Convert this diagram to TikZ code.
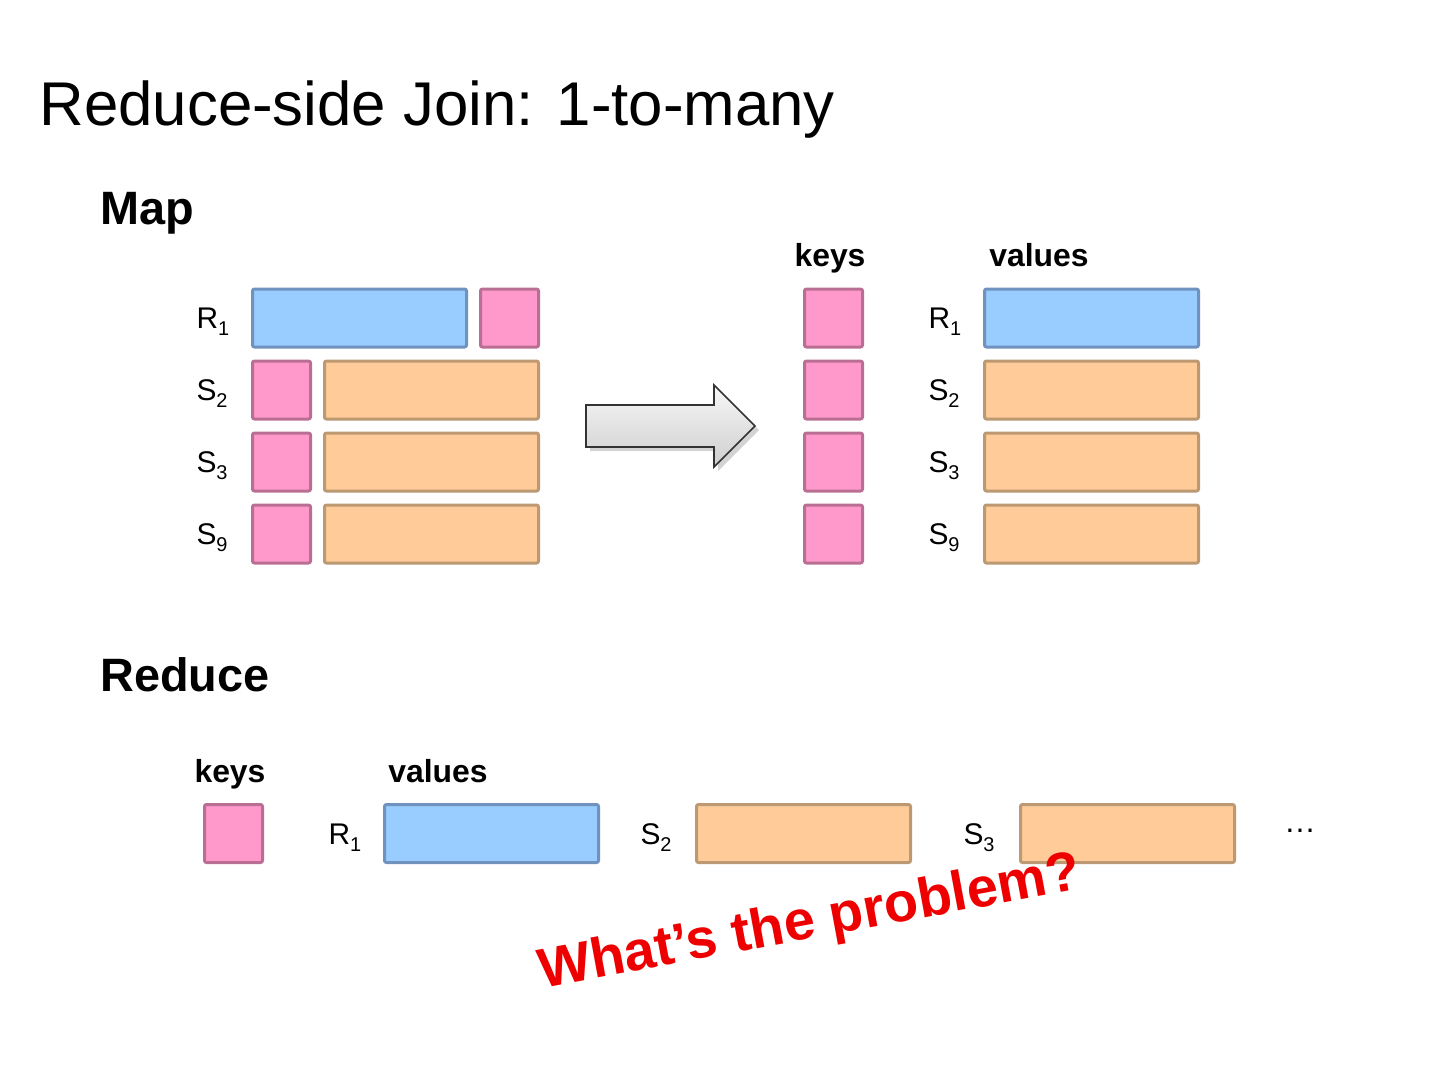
\documentclass[tikz,border=0pt]{standalone}
\usepackage{fontspec}
\setmainfont{Liberation Sans}
\usetikzlibrary{shadows}
\definecolor{keypink}{HTML}{FF99CC}
\definecolor{pinkline}{HTML}{B96F94}
\definecolor{rblue}{HTML}{99CCFF}
\definecolor{blueline}{HTML}{6F93BE}
\definecolor{sorange}{HTML}{FFCC99}
\definecolor{orangeline}{HTML}{BC9873}
\definecolor{probred}{HTML}{EE0000}
\newcommand{\idx}[2]{#1\raisebox{-0.45ex}{\fontsize{10}{12}\selectfont #2}}

\begin{document}
\begin{tikzpicture}[x=0.5bp, y=-0.5bp, line width=1.5bp,
    box/.style={draw, rounded corners=1bp, inner sep=0pt, minimum height=29bp},
    keybox/.style={box, draw=pinkline, fill=keypink, minimum width=29bp},
    rbox/.style={box, draw=blueline, fill=rblue, minimum width=107bp},
    sbox/.style={box, draw=orangeline, fill=sorange, minimum width=107bp},
    tag/.style={anchor=base west, inner sep=0pt, font=\fontsize{15}{18}\selectfont},
    head/.style={anchor=base, inner sep=0pt, font=\bfseries\fontsize{16}{19}\selectfont},
    part/.style={anchor=base west, inner sep=0pt, font=\bfseries\fontsize{23.5}{28}\selectfont}]
    \useasboundingbox (0,0) rectangle (1440,1080);
    \node[anchor=base west, inner sep=0pt, font=\fontsize{31}{37}\selectfont] (title) at (38,125) {Reduce-side Join: 1-to-many};
    \node[part] (map) at (99,224) {Map};
    \node[part] (reduce) at (99,691) {Reduce};

    \node[tag] (rl) at (195,328) {\idx{R}{1}};
    \node[rbox] (rv) at (359.5,318) {};
    \node[keybox] (rk) at (509.5,318) {};
    \foreach \s/\y in {2/390, 3/462, 9/534} {
      \node[tag] (sl\s) at (195,\y+10) {\idx{S}{\s}};
      \node[keybox] (sk\s) at (281.5,\y) {};
      \node[sbox] (sv\s) at (431.5,\y) {};
    }

    \draw[line width=0.8bp, draw=black!80, top color=gray!6, bottom color=gray!38,
          drop shadow={opacity=0.35, shadow xshift=2bp, shadow yshift=-2bp}]
      (586,405) -- (714,405) -- (714,385) -- (755,426) -- (714,467) -- (714,447) -- (586,447) -- cycle;

    \node[head] (mkeys) at (830,266) {keys};
    \node[head] (mvalues) at (1039,266) {values};
    \node[keybox] (ok1) at (833.5,318) {};
    \node[tag] (ol1) at (927,328) {\idx{R}{1}};
    \node[rbox] (ov1) at (1091.5,318) {};
    \foreach \s/\y in {2/390, 3/462, 9/534} {
      \node[keybox] (ok\s) at (833.5,\y) {};
      \node[tag] (ol\s) at (927,\y+10) {\idx{S}{\s}};
      \node[sbox] (ov\s) at (1091.5,\y) {};
    }

    \node[head] (rkeys) at (230,782) {keys};
    \node[head] (rvalues) at (438,782) {values};
    \node[keybox] (gk) at (233.5,833.5) {};
    \node[tag] (gl1) at (327,844) {\idx{R}{1}};
    \node[rbox] (gv1) at (491.5,833.5) {};
    \node[tag] (gl2) at (639,844) {\idx{S}{2}};
    \node[sbox] (gv2) at (803.5,833.5) {};
    \node[tag] (gl3) at (962,844) {\idx{S}{3}};
    \node[sbox] (gv3) at (1127.5,833.5) {};
    \node[anchor=base, inner sep=0pt, font=\fontsize{16}{19}\selectfont] (more) at (1300,832) {\dots};

    \node[rotate=10.5, inner sep=0pt, text=probred, font=\bfseries\fontsize{28}{33}\selectfont] (problem) at (810,924) {What’s the problem?};
  \end{tikzpicture}
\end{document}
